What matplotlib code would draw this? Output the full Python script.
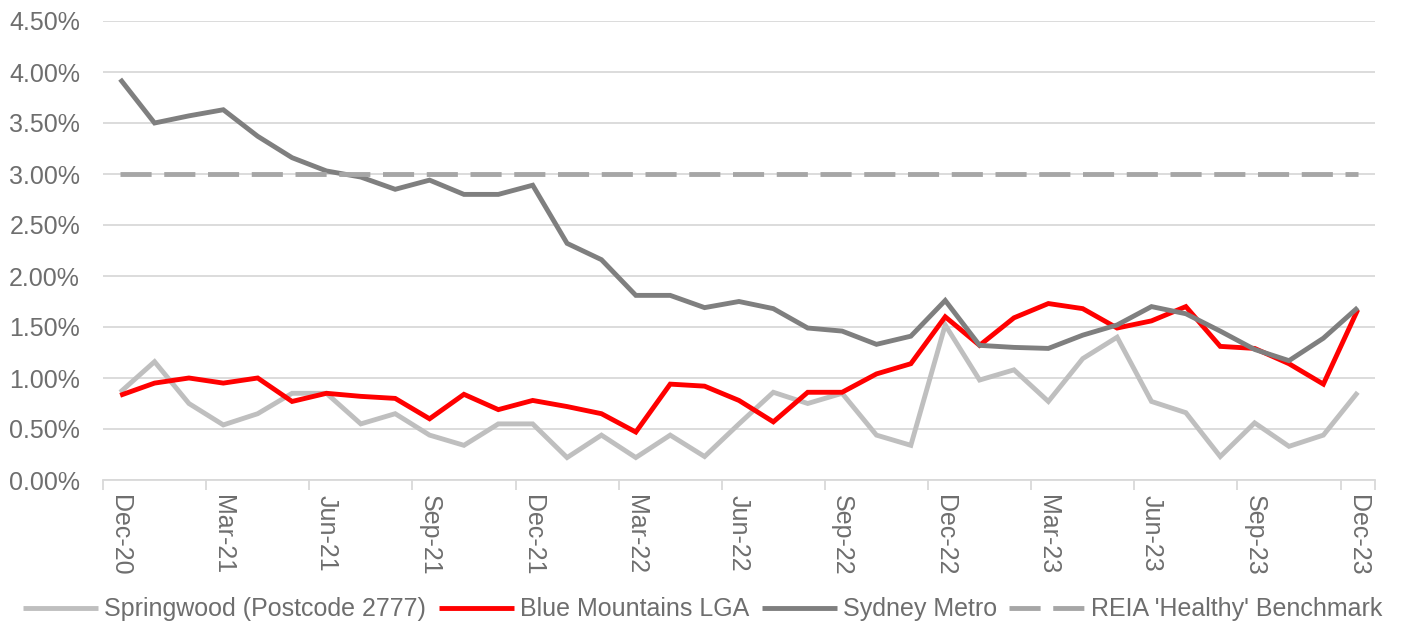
import matplotlib.pyplot as plt
from matplotlib.ticker import FuncFormatter, FixedLocator

plt.rcParams["font.family"] = ["Liberation Sans", "DejaVu Sans"]

MONTHS = [
    "Dec-20", "Jan-21", "Feb-21", "Mar-21", "Apr-21", "May-21", "Jun-21", "Jul-21",
    "Aug-21", "Sep-21", "Oct-21", "Nov-21", "Dec-21", "Jan-22", "Feb-22", "Mar-22",
    "Apr-22", "May-22", "Jun-22", "Jul-22", "Aug-22", "Sep-22", "Oct-22", "Nov-22",
    "Dec-22", "Jan-23", "Feb-23", "Mar-23", "Apr-23", "May-23", "Jun-23", "Jul-23",
    "Aug-23", "Sep-23", "Oct-23", "Nov-23", "Dec-23",
]

# monthly vacancy rates, %
springwood = [
    0.86, 1.16, 0.75, 0.54, 0.65, 0.85, 0.85, 0.55, 0.65, 0.44, 0.34, 0.55,
    0.55, 0.22, 0.44, 0.22, 0.44, 0.23, 0.55, 0.86, 0.75, 0.85, 0.44, 0.34,
    1.52, 0.98, 1.08, 0.77, 1.19, 1.40, 0.77, 0.66, 0.23, 0.56, 0.33, 0.44, 0.86,
]
blue_mountains = [
    0.83, 0.95, 1.00, 0.95, 1.00, 0.77, 0.85, 0.82, 0.80, 0.60, 0.84, 0.69,
    0.78, 0.72, 0.65, 0.47, 0.94, 0.92, 0.78, 0.57, 0.86, 0.86, 1.04, 1.14,
    1.60, 1.32, 1.59, 1.73, 1.68, 1.49, 1.56, 1.70, 1.31, 1.29, 1.14, 0.94, 1.67,
]
sydney_metro = [
    3.93, 3.50, 3.57, 3.63, 3.37, 3.16, 3.03, 2.97, 2.85, 2.94, 2.80, 2.80,
    2.89, 2.32, 2.16, 1.81, 1.81, 1.69, 1.75, 1.68, 1.49, 1.46, 1.33, 1.41,
    1.76, 1.32, 1.30, 1.29, 1.42, 1.52, 1.70, 1.63, 1.46, 1.28, 1.17, 1.39, 1.69,
]
benchmark = [3.00] * len(MONTHS)

SERIES = [
    ("Springwood (Postcode 2777)", springwood, "#bfbfbf", "-"),
    ("Blue Mountains LGA", blue_mountains, "#ff0000", "-"),
    ("Sydney Metro", sydney_metro, "#7f7f7f", "-"),
    ("REIA 'Healthy' Benchmark", benchmark, "#a6a6a6", "--"),
]
TEXT = "#6e6e6e"
GRID = "#d9d9d9"
FS = 18

fig = plt.figure(figsize=(14.05, 6.25), dpi=100)
ax = fig.add_axes([0.0733, 0.232, 0.9053, 0.7344])

x = list(range(len(MONTHS)))
handles = []
for name, vals, color, ls in SERIES:
    (ln,) = ax.plot(x, vals, color=color, lw=3.5, label=name,
                    solid_capstyle="butt", solid_joinstyle="miter")
    if ls == "--":
        ln.set_dashes((6.4, 2.6))
        ln.set_dash_capstyle("butt")
    handles.append(ln)

ax.set_xlim(-0.5, len(MONTHS) - 0.5)
ax.set_ylim(0, 4.5)
ax.set_yticks([i * 0.5 for i in range(10)])
ax.yaxis.set_major_formatter(FuncFormatter(lambda v, _: f"{v:.2f}%"))
ax.grid(True, axis="y", color=GRID, lw=1.3)
ax.set_axisbelow(True)

# labels sit on every third month, tick marks on the category boundaries
ax.xaxis.set_major_locator(FixedLocator(x[::3]))
ax.set_xticklabels(MONTHS[::3], rotation=270, va="top", ha="center")
ax.xaxis.set_minor_locator(FixedLocator([i - 0.5 for i in x[::3]] + [len(MONTHS) - 0.5]))
ax.tick_params(axis="x", which="major", length=0, pad=10.5, labelsize=FS, colors=TEXT)
ax.tick_params(axis="x", which="minor", length=7, width=1.3, color=GRID)
ax.tick_params(axis="y", length=0, pad=16.5, labelsize=FS, colors=TEXT)

for side in ("top", "right", "left"):
    ax.spines[side].set_visible(False)
ax.spines["bottom"].set_color(GRID)
ax.spines["bottom"].set_linewidth(1.3)

fig.legend(handles=handles, loc="lower center", bbox_to_anchor=(0.5, -0.03),
           ncol=4, frameon=False, fontsize=FS, labelcolor=TEXT,
           handlelength=3.0, handletextpad=0.25, columnspacing=0.5)

fig.savefig("out.png", dpi=100, facecolor="white")
